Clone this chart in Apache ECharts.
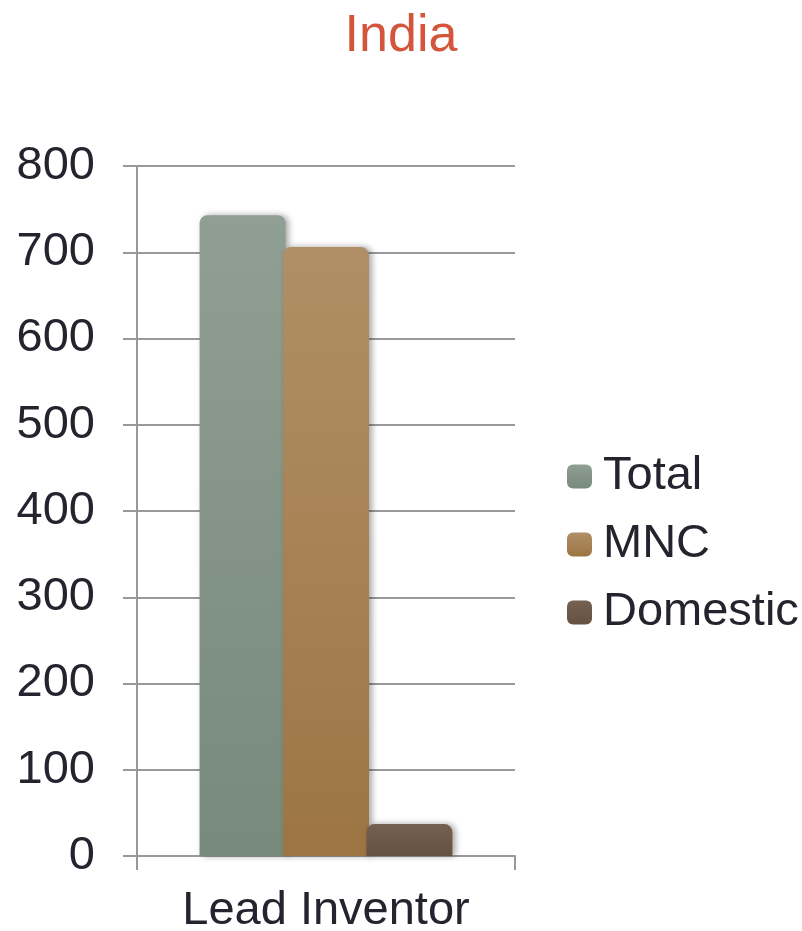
<!DOCTYPE html>
<html><head><meta charset="utf-8">
<script src="https://cdn.jsdelivr.net/npm/echarts@6/dist/echarts.min.js"></script>
<style>html,body{margin:0;padding:0;background:#fff}#c{width:802px;height:931px}</style>
</head><body><div id="c"></div>
<script>
var title = 'India';
var categories = ['Lead Inventor'];
var seriesNames = ['Total', 'MNC', 'Domestic'];
var totalValues = [743];
var mncValues = [706];
var domesticValues = [37];
var yTicks = [0, 100, 200, 300, 400, 500, 600, 700, 800];

var colors = [
  ['#909f93', '#778a7c'],
  ['#b08f66', '#9d7544'],
  ['#76604f', '#66503f']
];
function grad(c){return new echarts.graphic.LinearGradient(0,0,0,1,[{offset:0,color:c[0]},{offset:1,color:c[1]}]);}
var values = [totalValues, mncValues, domesticValues];
var chart = echarts.init(document.getElementById('c'));
var font = 'Liberation Sans, Arial, sans-serif';
chart.setOption({
  animation: false,
  title: {text: title, left: 'center', top: 6, textStyle: {color: '#d4553b', fontSize: 52, fontWeight: 'normal', fontFamily: font}},
  legend: {
    orient: 'vertical', left: 562, top: 448, itemGap: 21, itemWidth: 25, itemHeight: 24,
    icon: 'roundRect',
    textStyle: {fontSize: 47, color: '#24242e', fontFamily: font, padding: [0,0,0,6]},
    data: seriesNames
  },
  grid: {left: 137, right: 287, top: 166, bottom: 75, containLabel: false, outerBoundsMode: 'none'},
  xAxis: {
    type: 'category', data: categories,
    axisLine: {lineStyle: {color: '#999', width: 2}},
    axisTick: {show: true, length: 14, lineStyle: {color: '#999', width: 2}},
    axisLabel: {fontSize: 47, color: '#24242e', fontFamily: font, margin: 32}
  },
  yAxis: {
    type: 'value', min: 0, max: 800, interval: 100,
    axisLine: {show: true, lineStyle: {color: '#999', width: 2}},
    axisTick: {show: true, length: 14, lineStyle: {color: '#999', width: 2}},
    splitLine: {lineStyle: {color: '#999', width: 2}},
    axisLabel: {fontSize: 47, color: '#24242e', fontFamily: font, margin: 42,
      formatter: function(v){return yTicks.indexOf(v) >= 0 ? String(v) : '';}}
  },
  series: seriesNames.map(function(n, i){
    return {
      name: n, type: 'bar', data: values[i], barWidth: 86, barGap: '-3%',
      itemStyle: {color: grad(colors[i]), borderRadius: [8,8,0,0],
        shadowColor: 'rgba(0,0,0,0.35)', shadowBlur: 6, shadowOffsetX: 3, shadowOffsetY: 0}
    };
  })
});
</script></body></html>
